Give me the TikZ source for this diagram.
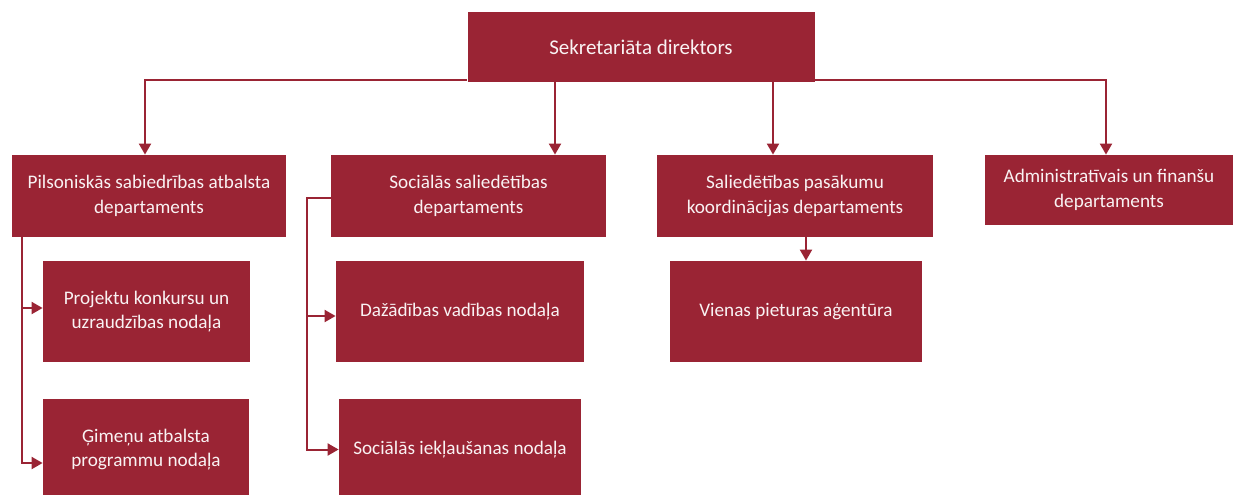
\documentclass[tikz,border=0pt]{standalone}
\usepackage{fontspec}
\setmainfont{Carlito}
\usetikzlibrary{arrows.meta}
\definecolor{deptred}{RGB}{154,36,52}
\begin{document}
\begin{tikzpicture}[x=0.5pt,y=-0.5pt,font=\fontsize{9.6}{12.2}\selectfont,
  box/.style={fill=deptred,text=white!94!deptred,align=center,inner sep=0pt},
  conn/.style={draw=deptred,line width=1pt,-{Triangle[width=6pt,length=5.5pt]}}]
\useasboundingbox (0,0) rectangle (1233,494);

%director
\node[box,minimum width=173.5pt,minimum height=35pt,font=\fontsize{10.5}{12.6}\selectfont] (dir) at (641,47) {Sekretariāta direktors};

%departments
\node[box,minimum width=137pt,minimum height=41pt] (pil) at (149,196) {Pilsoniskās sabiedrības atbalsta\\departaments};
\node[box,minimum width=137.5pt,minimum height=41pt] (soc) at (468.5,196) {Sociālās saliedētības\\departaments};
\node[box,minimum width=138pt,minimum height=41pt] (sal) at (795,196) {Saliedētības pasākumu\\koordinācijas departaments};
\node[box,minimum width=124pt,minimum height=35pt] (adm) at (1109,190) {Administratīvais un finanšu\\departaments};

%units
\node[box,minimum width=103.5pt,minimum height=50.5pt] (proj) at (146.5,311.5) {Projektu konkursu un\\uzraudzības nodaļa};
\node[box,minimum width=103pt,minimum height=50.5pt] (gim) at (146,449.5) {Ģimeņu atbalsta\\programmu nodaļa};
\node[box,minimum width=124pt,minimum height=50.5pt] (daz) at (460,311.5) {Dažādības vadības nodaļa};
\node[box,minimum width=121pt,minimum height=50.5pt] (sie) at (460,449.5) {Sociālās iekļaušanas nodaļa};
\node[box,minimum width=126pt,minimum height=50.5pt] (vie) at (796,311.5) {Vienas pieturas aģentūra};

%director to departments
\draw[conn] ([yshift=1pt]dir.south west) -| ([xshift=-2pt]pil.north);
\draw[conn] ([xshift=-43pt]dir.south) -- ([xshift=-43pt]dir.south |- soc.north);
\draw[conn] ([xshift=66pt]dir.south) -- ([xshift=66pt]dir.south |- sal.north);
\draw[conn] ([yshift=1pt]dir.south east) -| ([xshift=-1.5pt]adm.north);

%departments to units
\draw[conn] ([xshift=5pt]pil.south west) |- ([yshift=1.75pt]proj.west);
\draw[conn] ([xshift=5pt]pil.south west) |- ([yshift=-6.75pt]gim.west);
\draw[conn] ([yshift=-1pt]soc.west) -- ++(-12pt,0) |- ([yshift=-2.25pt]daz.west);
\draw[conn] ([yshift=-1pt]soc.west) -- ++(-12pt,0) |- (sie.west);
\draw[conn] ([xshift=5.5pt]sal.south) -- ([xshift=5.5pt]sal.south |- vie.north);
\end{tikzpicture}
\end{document}
